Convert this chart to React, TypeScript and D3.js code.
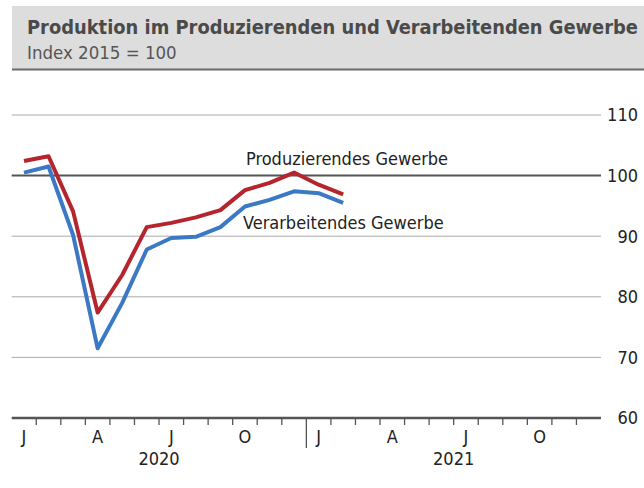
import * as d3 from 'd3';

const W = 644, H = 488;

// months shown on the x axis (Jan 2020 – Dec 2021)
const years = ['2020', '2021'];
const monthLetters = ['J', 'F', 'M', 'A', 'M', 'J', 'J', 'A', 'S', 'O', 'N', 'D'];
const labelledMonths = [0, 3, 6, 9];

// index values, Jan 2020 .. Feb 2021
const produzierend = [102.4, 103.2, 94.1, 77.4, 83.6, 91.5, 92.2, 93.1, 94.3, 97.6, 98.8, 100.5, 98.5, 96.9];
const verarbeitend = [100.5, 101.5, 90.2, 71.5, 79.0, 87.8, 89.7, 89.9, 91.5, 94.9, 96.0, 97.4, 97.1, 95.5];

const yTicks = [60, 70, 80, 90, 100, 110];

const FONT = '"DejaVu Sans Condensed", "DejaVu Sans", sans-serif';
const RED = '#b5252e';
const BLUE = '#3b79c4';

export default function App() {
  const months = years.flatMap((y) => monthLetters.map((m, i) => `${y}-${i}`));
  const x = d3.scaleBand<string>().domain(months).range([11.7, 601]).padding(0);
  const bw = x.bandwidth();
  const y = d3.scaleLinear().domain([60, 110]).range([418, 115]);

  const cx = (i: number) => (x(months[i]) ?? 0) + bw / 2;
  const line = d3
    .line<number>()
    .x((_, i) => cx(i))
    .y((d) => y(d));

  return (
    <svg
      width={W}
      height={H}
      style={{ position: 'absolute', left: 0, top: 0, display: 'block', fontFamily: FONT }}
    >
      {/* header */}
      <rect x={12} y={6} width={W - 12} height={64} fill="#dddddd" />
      <line x1={12} x2={W} y1={69.5} y2={69.5} stroke="#6b6b6b" strokeWidth={2} />
      <text x={27} y={34} fontSize={20} fontWeight="bold" fill="#4a4a4a" textLength={611} lengthAdjust="spacingAndGlyphs">
        Produktion im Produzierenden und Verarbeitenden Gewerbe
      </text>
      <text x={27} y={59} fontSize={18.5} fill="#555">
        Index 2015 = 100
      </text>

      {/* grid */}
      {yTicks.map((t) => (
        <g key={t}>
          {t !== 60 && (
            <line
              x1={11.7}
              x2={601}
              y1={y(t)}
              y2={y(t)}
              stroke={t === 100 ? '#555' : '#aaa'}
              strokeWidth={t === 100 ? 2 : 1}
            />
          )}
          <text x={638} y={y(t)} dy="0.35em" textAnchor="end" fontSize={18} fill="#222">
            {t}
          </text>
        </g>
      ))}

      {/* x axis */}
      <line x1={11.7} x2={601} y1={y(60)} y2={y(60)} stroke="#555" strokeWidth={2.5} />
      {months.slice(1).map((m, i) => (
        <line
          key={m}
          x1={x(m)}
          x2={x(m)}
          y1={y(60)}
          y2={(i + 1) % 12 === 0 ? 448 : 425}
          stroke="#555"
          strokeWidth={1.3}
        />
      ))}
      {months.map((m, i) =>
        labelledMonths.includes(i % 12) ? (
          <text key={m} x={(x(m) ?? 0) + bw / 2} y={443} textAnchor="middle" fontSize={18} fill="#222">
            {monthLetters[i % 12]}
          </text>
        ) : null
      )}
      {years.map((yr, k) => (
        <text
          key={yr}
          x={((x(months[k * 12]) ?? 0) + (x(months[k * 12 + 11]) ?? 0) + bw) / 2}
          y={465}
          textAnchor="middle"
          fontSize={18}
          fill="#222"
        >
          {yr}
        </text>
      ))}

      {/* series */}
      <path d={line(verarbeitend) ?? ''} fill="none" stroke={BLUE} strokeWidth={4} strokeLinejoin="round" />
      <path d={line(produzierend) ?? ''} fill="none" stroke={RED} strokeWidth={4} strokeLinejoin="round" />

      <text x={246} y={165} fontSize={18} fill="#222">
        Produzierendes Gewerbe
      </text>
      <text x={243} y={229} fontSize={18} fill="#222">
        Verarbeitendes Gewerbe
      </text>
    </svg>
  );
}
